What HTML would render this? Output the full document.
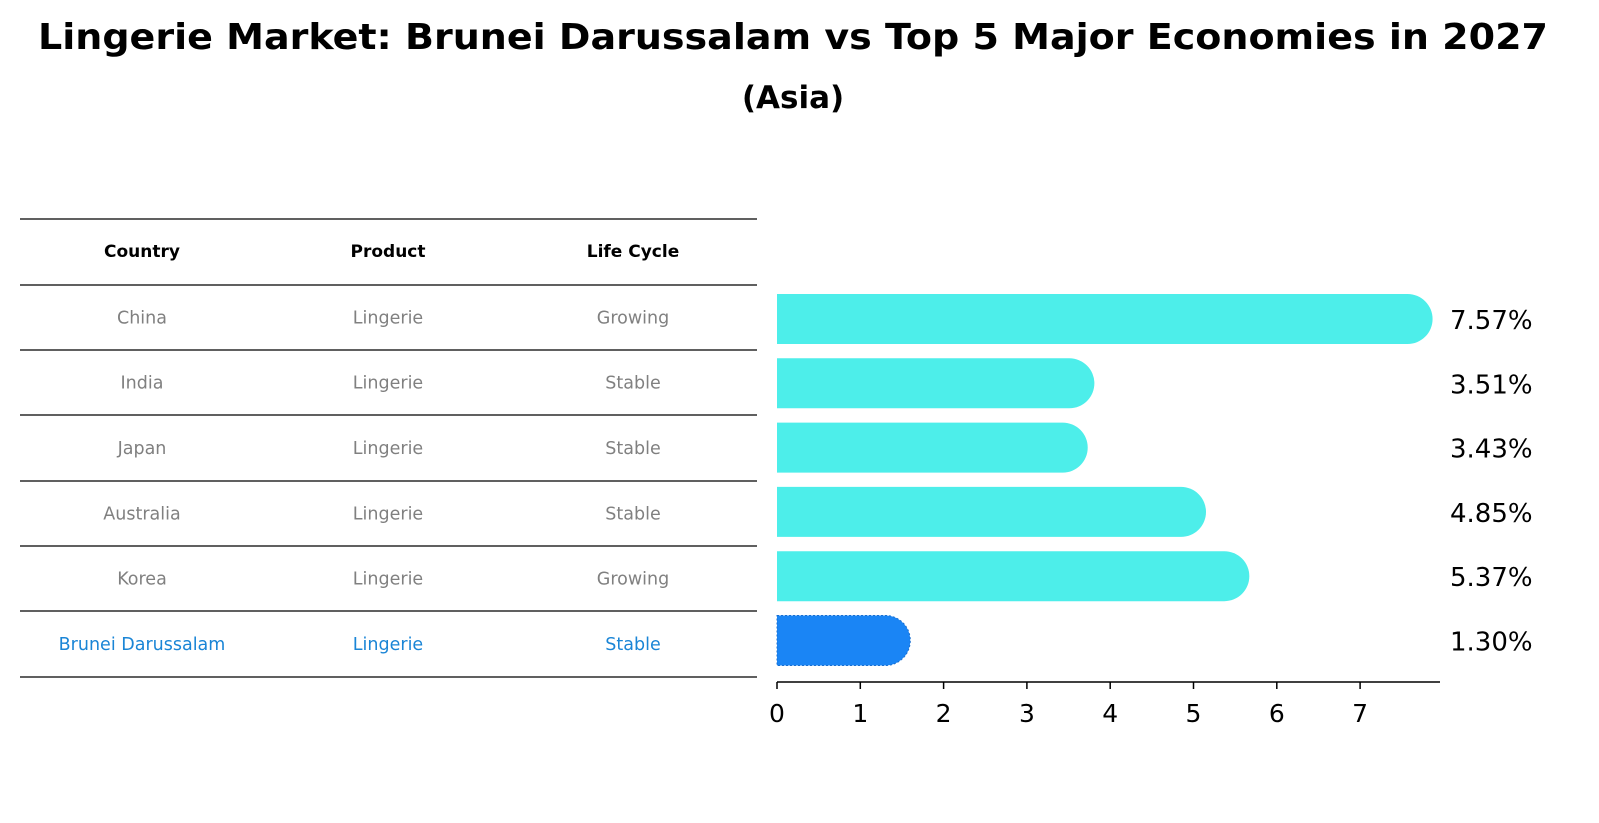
<!DOCTYPE html>
<html><head><meta charset="utf-8"><style>
html,body{margin:0;padding:0;overflow:hidden;background:#fff;font-family:"Liberation Sans","DejaVu Sans",sans-serif;}
svg{display:block;}
</style></head><body>
<svg width="1599" height="823" viewBox="0 0 1599 823" xmlns="http://www.w3.org/2000/svg" font-family="DejaVu Sans, Liberation Sans, sans-serif">
<text x="793" y="49" text-anchor="middle" font-size="36" font-weight="bold" textLength="1510" lengthAdjust="spacingAndGlyphs">Lingerie Market: Brunei Darussalam vs Top 5 Major Economies in 2027</text>
<text x="793" y="108" text-anchor="middle" font-size="31" font-weight="bold">(Asia)</text>
<g id="table"></g>
<g id="chart"></g>
</svg>
<script>
const countries=["China","India","Japan","Australia","Korea","Brunei Darussalam"];
const products=["Lingerie","Lingerie","Lingerie","Lingerie","Lingerie","Lingerie"];
const cycles=["Growing","Stable","Stable","Stable","Growing","Stable"];
const values=[7.57,3.51,3.43,4.85,5.37,1.30];
const ticks=[0,1,2,3,4,5,6,7];
const NS="http://www.w3.org/2000/svg";
function mk(tag,attrs,parent){const e=document.createElementNS(NS,tag);for(const k in attrs)e.setAttribute(k,attrs[k]);parent.appendChild(e);return e;}
const tbl=document.getElementById('table');
const lineYs=[219,285,350,415,481,546,611,677];
lineYs.forEach((y,i)=>{const l=mk('line',{x1:20,x2:757,y1:y,y2:y,stroke:'#000','stroke-width':1.2},tbl);

});
const cx=[142,388,633];
["Country","Product","Life Cycle"].forEach((h,i)=>{const t=mk('text',{x:cx[i],y:257,'text-anchor':'middle','font-size':17,'font-weight':'bold'},tbl);t.textContent=h;

});
countries.forEach((c,r)=>{const y=(lineYs[r+1]+lineYs[r+2])/2+6;const col=r===countries.length-1?'#1a85d6':'#808080';
[c,products[r],cycles[r]].forEach((v,i)=>{const t=mk('text',{x:cx[i],y:y,'text-anchor':'middle','font-size':17.5,fill:col},tbl);t.textContent=v;

});});
const ch=document.getElementById('chart');
const x0=777,ppu=83.3;const xs=v=>x0+v*ppu;
const bh=50;const rowY=i=>319+i*64.3;
values.forEach((v,i)=>{const last=i===values.length-1;const col=last?'#1a85f5':'#4deeea';
const yc=rowY(i),x1=xs(v),r=bh/2;
const p=mk('path',{d:`M${x0},${yc-r} L${x1},${yc-r} A${r},${r} 0 0 1 ${x1},${yc+r} L${x0},${yc+r} Z`,fill:col},ch);
if(last){p.setAttribute('stroke','#1a6fd0');p.setAttribute('stroke-dasharray','2,2');p.setAttribute('stroke-width','1');}


const t=mk('text',{x:1450,y:yc+10,'font-size':26},ch);t.textContent=v.toFixed(2)+'%';

});
const ax=mk('line',{x1:x0,x2:1440,y1:682,y2:682,stroke:'#000','stroke-width':1.5},ch);


ticks.forEach(v=>{const tl=mk('line',{x1:xs(v),x2:xs(v),y1:682,y2:689,stroke:'#000','stroke-width':1.5},ch);


const t=mk('text',{x:xs(v),y:722,'text-anchor':'middle','font-size':25},ch);t.textContent=v;

});
</script>
</body></html>
